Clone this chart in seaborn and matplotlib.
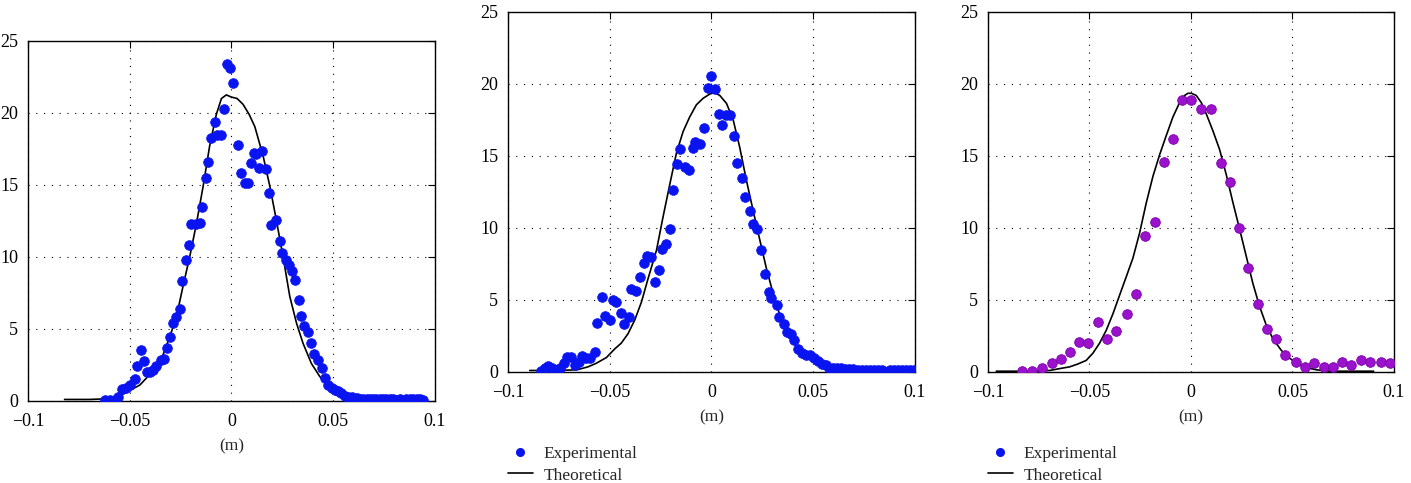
import numpy as np
import pandas as pd
import seaborn as sns
import matplotlib.pyplot as plt
from matplotlib.lines import Line2D
from matplotlib.ticker import FuncFormatter

sns.set_style('white')
plt.rcParams['font.family'] = ['Liberation Serif', 'DejaVu Serif']

## data ##

# panel 1 experimental
x1_exp = [-0.0623, -0.0598, -0.0574, -0.0557, -0.0536, -0.0516, -0.0497, -0.0475, -0.0462,
          -0.0444, -0.0430, -0.0416, -0.0398, -0.0385, -0.0369, -0.0348, -0.0331, -0.0315,
          -0.0300, -0.0287, -0.0270, -0.0254, -0.0241, -0.0225, -0.0210, -0.0200, -0.0172,
          -0.0156, -0.0143, -0.0126, -0.0113, -0.0100, -0.0082, -0.0070, -0.0049, -0.0036,
          -0.0021, -0.0005, 0.0008, 0.0033, 0.0049, 0.0066, 0.0082, 0.0095, 0.0110, 0.0123,
          0.0136, 0.0152, 0.0169, 0.0185, 0.0197, 0.0221, 0.0238, 0.0251, 0.0266, 0.0284,
          0.0298, 0.0313, 0.0330, 0.0344, 0.0357, 0.0374, 0.0390, 0.0407, 0.0426, 0.0443,
          0.0459, 0.0475, 0.0492, 0.0508, 0.0525, 0.0541, 0.0557, 0.0574, 0.0595, 0.0615,
          0.0632, 0.0648, 0.0664, 0.0680, 0.0697, 0.0713, 0.0730, 0.0746, 0.0762, 0.0779,
          0.0795, 0.0811, 0.0828, 0.0844, 0.0860, 0.0877, 0.0893, 0.0910, 0.0926, 0.0942]
y1_exp = [0.05, 0.05, 0.05, 0.3, 0.8, 0.9, 1.1, 1.5, 2.4,
          3.5, 2.8, 2.0, 2.0, 2.15, 2.4, 2.85, 2.9, 3.65,
          4.45, 5.4, 5.8, 6.35, 8.3, 9.8, 10.85, 12.25, 12.25,
          12.35, 13.5, 15.45, 16.6, 18.25, 19.35, 18.5, 18.5, 20.3,
          23.4, 23.15, 22.05, 17.8, 15.85, 15.15, 15.15, 16.5, 17.25, 17.15,
          16.2, 17.35, 16.1, 14.45, 12.2, 12.55, 11.1, 10.3, 9.8, 9.45,
          9.05, 8.4, 7.0, 5.9, 5.2, 4.75, 4.0, 3.25, 2.85, 2.25,
          1.6, 1.1, 0.9, 0.75, 0.7, 0.55, 0.35, 0.3, 0.25, 0.2,
          0.15, 0.1, 0.1, 0.1, 0.1, 0.1, 0.1, 0.1, 0.1, 0.1,
          0.1, 0.05, 0.1, 0.0, 0.1, 0.1, 0.1, 0.1, 0.1, 0.05]

# panel 1 theoretical
x1_th = [-0.082, -0.070, -0.060, -0.054, -0.051, -0.045, -0.041, -0.037, -0.0336, -0.0303,
         -0.027, -0.0238, -0.0205, -0.0172, -0.0139, -0.0107, -0.0074, -0.0049, -0.0025, 0.0,
         0.0028, 0.0057, 0.0087, 0.0115, 0.0156, 0.0189, 0.0221, 0.0254, 0.0287, 0.032,
         0.0352, 0.0393, 0.0434, 0.0475, 0.0516, 0.0566, 0.0615, 0.070, 0.085]
y1_th = [0.1, 0.1, 0.15, 0.4, 0.65, 1.1, 1.7, 2.4, 3.2, 4.45,
         5.85, 7.95, 10.0, 12.3, 14.9, 17.7, 19.9, 21.0, 21.25, 21.1,
         21.0, 20.6, 19.9, 19.05, 17.0, 14.9, 12.55, 10.0, 7.25, 5.4,
         4.0, 2.6, 1.7, 1.05, 0.65, 0.3, 0.1, 0.1, 0.1]

# panel 2 experimental
x2_exp = [-0.0839, -0.0820, -0.0803, -0.0782, -0.0762, -0.0746, -0.0726, -0.0710, -0.0689,
          -0.0672, -0.0652, -0.0634, -0.0618, -0.0595, -0.0574, -0.0561, -0.0536, -0.0521,
          -0.0500, -0.0484, -0.0467, -0.0446, -0.0430, -0.0407, -0.0393, -0.0369, -0.0352,
          -0.0333, -0.0316, -0.0295, -0.0279, -0.0257, -0.0243, -0.0225, -0.0205, -0.0189,
          -0.0167, -0.0152, -0.0131, -0.0111, -0.0090, -0.0079, -0.0057, -0.0038, -0.0016,
          0.0000, 0.0016, 0.0038, 0.0054, 0.0074, 0.0093, 0.0111, 0.0128, 0.0152, 0.0167,
          0.0189, 0.0205, 0.0226, 0.0243, 0.0262, 0.0282, 0.0295, 0.0320, 0.0333, 0.0356,
          0.0372, 0.0393, 0.0407, 0.0426, 0.0443, 0.0464, 0.0484, 0.0503, 0.0525, 0.0541,
          0.0561, 0.0579, 0.0598, 0.0618, 0.0638, 0.0658, 0.0678, 0.0698, 0.0718, 0.0738,
          0.0758, 0.0778, 0.0798, 0.0818, 0.0838, 0.0858, 0.0878, 0.0898, 0.0918, 0.0938,
          0.0958, 0.0978, 0.0998]
y2_exp = [0.05, 0.25, 0.4, 0.3, 0.1, 0.25, 0.6, 1.05, 1.05,
          0.5, 0.7, 1.1, 0.95, 0.95, 1.4, 3.4, 5.2, 3.85,
          3.6, 5.0, 4.85, 4.1, 3.35, 3.8, 5.75, 5.65, 6.6,
          7.55, 8.05, 8.0, 6.25, 7.1, 8.55, 8.9, 9.95, 12.65,
          14.45, 15.5, 14.2, 14.05, 15.55, 16.0, 15.85, 16.95, 19.75,
          20.55, 19.65, 17.9, 17.15, 17.85, 17.85, 16.4, 14.5, 13.5, 12.15,
          11.15, 10.25, 9.9, 8.5, 6.8, 5.55, 5.1, 4.65, 3.8, 3.3,
          2.8, 2.65, 2.25, 1.6, 1.3, 1.2, 1.15, 0.95, 0.75, 0.55,
          0.45, 0.3, 0.3, 0.25, 0.25, 0.2, 0.2, 0.2, 0.15, 0.1,
          0.1, 0.1, 0.1, 0.1, 0.1, 0.0, 0.1, 0.1, 0.1, 0.1,
          0.1, 0.1, 0.1]

# panel 2 theoretical
x2_th = [-0.0893, -0.075, -0.066, -0.0607, -0.0566, -0.0516, -0.0475, -0.0443, -0.041, -0.0377,
         -0.0344, -0.0311, -0.027, -0.0238, -0.0205, -0.0172, -0.0139, -0.0107, -0.0074, -0.0041,
         -0.0008, 0.0016, 0.0041, 0.0074, 0.0107, 0.0139, 0.0172, 0.0205, 0.0238, 0.027,
         0.0303, 0.0336, 0.0377, 0.0418, 0.0451, 0.0484, 0.0516, 0.0557, 0.0598, 0.0648, 0.080]
y2_th = [0.1, 0.1, 0.15, 0.35, 0.6, 1.0, 1.6, 2.0, 2.65, 3.6,
         4.85, 6.5, 8.45, 10.75, 13.0, 15.2, 16.7, 17.7, 18.55, 19.0,
         19.3, 19.4, 19.2, 18.65, 17.5, 15.6, 13.3, 11.2, 9.15, 7.2,
         5.45, 3.95, 2.65, 1.75, 1.4, 1.1, 0.8, 0.45, 0.25, 0.1, 0.05]

# panel 3 experimental
x3_exp = [-0.0831, -0.0785, -0.0732, -0.0686, -0.0642, -0.0596, -0.0550, -0.0506, -0.0460,
          -0.0414, -0.0368, -0.0315, -0.0271, -0.0225, -0.0179, -0.0135, -0.0089, -0.0044,
          0.0002, 0.0048, 0.0100, 0.0146, 0.0190, 0.0236, 0.0282, 0.0328, 0.0373, 0.0419,
          0.0465, 0.0517, 0.0563, 0.0608, 0.0654, 0.0700, 0.0744, 0.0790, 0.0836, 0.0880,
          0.0934, 0.0980]
y3_exp = [0.05, 0.05, 0.3, 0.6, 0.9, 1.35, 2.1, 2.0, 3.45,
          2.3, 2.85, 4.0, 5.4, 9.45, 10.4, 14.6, 16.2, 18.9,
          18.9, 18.25, 18.25, 14.5, 13.2, 10.0, 7.2, 4.75, 3.0, 2.3,
          1.2, 0.7, 0.35, 0.6, 0.35, 0.35, 0.7, 0.45, 0.8, 0.7,
          0.7, 0.6]

# panel 3 theoretical
x3_th = [-0.0959, -0.080, -0.0696, -0.0639, -0.0598, -0.0557, -0.0516, -0.0483, -0.045, -0.0417,
         -0.0384, -0.0351, -0.0319, -0.0286, -0.0253, -0.022, -0.0187, -0.0154, -0.0122, -0.0089,
         -0.0056, -0.0031, -0.0015, 0.0002, 0.0026, 0.0051, 0.0076, 0.0108, 0.0141, 0.0174,
         0.0207, 0.024, 0.0273, 0.0305, 0.0338, 0.0371, 0.0404, 0.0445, 0.0486, 0.0527,
         0.0568, 0.0617, 0.0683, 0.090]
y3_th = [0.05, 0.05, 0.1, 0.25, 0.35, 0.55, 0.8, 1.3, 2.0, 2.9,
         4.05, 5.35, 6.6, 7.9, 9.65, 11.75, 13.6, 15.1, 16.4, 17.7,
         18.7, 19.2, 19.35, 19.35, 19.2, 18.7, 17.9, 16.75, 15.45, 13.7,
         11.75, 9.9, 8.0, 6.15, 4.55, 3.25, 2.3, 1.5, 0.95, 0.55,
         0.3, 0.15, 0.05, 0.05]

xticks = [-0.1, -0.05, 0, 0.05, 0.1]
yticks = [0, 5, 10, 15, 20, 25]

blue = '#0a14f0'
purple = '#9a12cc'

fig = plt.figure(figsize=(14.11, 4.83), dpi=100)
ax1 = fig.add_axes([0.0198, 0.170, 0.2884, 0.7453])
ax2 = fig.add_axes([0.3600, 0.230, 0.2884, 0.7453])
ax3 = fig.add_axes([0.7002, 0.230, 0.2877, 0.7453])

panels = [
    (ax1, x1_exp, y1_exp, x1_th, y1_th, blue, blue),
    (ax2, x2_exp, y2_exp, x2_th, y2_th, blue, blue),
    (ax3, x3_exp, y3_exp, x3_th, y3_th, purple, '#7a00a8'),
]

for ax, xe, ye, xt, yt, col, ecol in panels:
    sns.lineplot(x=xt, y=yt, ax=ax, color='black', lw=1.2, sort=False, estimator=None)
    sns.scatterplot(x=xe, y=ye, ax=ax, color=col, edgecolor=ecol, linewidth=0.6, s=48, zorder=3)
    ax.set_xlim(-0.1, 0.1)
    ax.set_ylim(0, 25)
    ax.set_xticks(xticks)
    ax.set_yticks(yticks)
    ax.xaxis.set_major_formatter(FuncFormatter(lambda v, p: '%g' % v if v >= 0 else '\u2212%g' % -v))
    ax.grid(True, color='black', linestyle=(0, (1, 6)), lw=0.8)
    ax.tick_params(direction='in', length=5, top=True, right=True, labelsize=13, colors='black')
    ax.tick_params(axis='x', pad=9)
    ax.tick_params(axis='y', pad=7)
    for s in ax.spines.values():
        s.set_visible(True)
        s.set_color('black')
        s.set_linewidth(1.0)
    ax.set_xlabel('(m)', fontsize=12.5, labelpad=6)
    ax.set_ylabel('')

handles = [
    Line2D([], [], marker='o', ls='none', color=blue, markersize=5.5),
    Line2D([], [], color='black', lw=1.2),
]
for ax in (ax2, ax3):
    ax.legend(handles, ['Experimental', 'Theoretical'], loc='upper left',
              bbox_to_anchor=(0.0, -0.205), frameon=False, fontsize=12.5,
              handlelength=1.44, handletextpad=0.63, labelspacing=0.32,
              borderpad=0, borderaxespad=0)

fig.savefig('out.png', dpi=100)
